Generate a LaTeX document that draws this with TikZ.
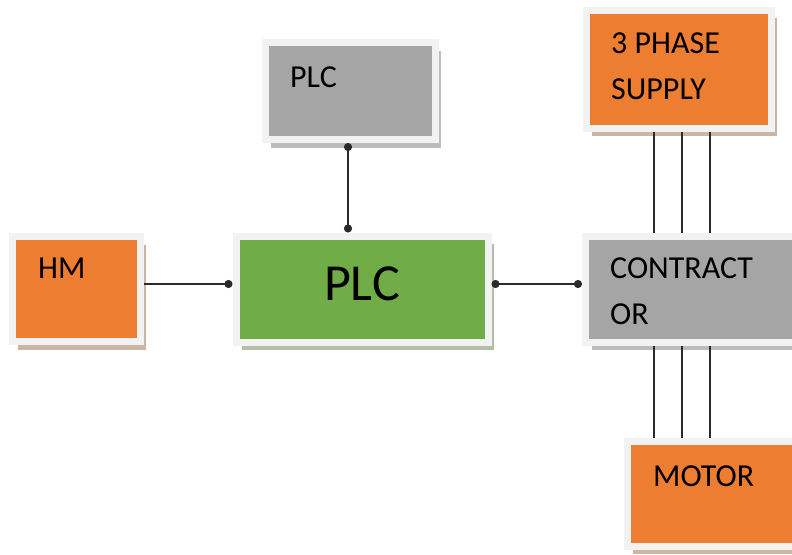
\documentclass[tikz,border=0pt]{standalone}
\usepackage{fontspec}
\setmainfont{Carlito}
\usetikzlibrary{arrows,shadows}
\definecolor{boxorange}{HTML}{ED7D31}
\definecolor{boxgreen}{HTML}{70AD47}
\definecolor{boxgrey}{HTML}{A5A5A5}
\definecolor{rimgrey}{HTML}{F2F2F2}
\definecolor{wiregrey}{HTML}{2B2B2B}

\begin{document}
\begin{tikzpicture}[x=1pt,y=-1pt]
\tikzset{box/.style={draw=rimgrey,line width=7pt,fill=#1,inner sep=0pt,
  drop shadow={shadow xshift=6pt,shadow yshift=-8pt,fill=#1!55!black,opacity=0.4}}}
\tikzset{lbl/.style={inner sep=0pt,anchor=base west,font=\fontsize{32}{46}\selectfont}}
\tikzset{link/.style={line width=1.6pt,draw=wiregrey}}

\useasboundingbox (0,0) rectangle (792,554);
\clip (0,0) rectangle (792,554);

\node[box=boxorange,minimum width=128pt,minimum height=105pt] (hm) at (76,289) {};
\node[box=boxgreen,minimum width=252pt,minimum height=106pt] (plc) at (362,289) {};
\node[box=boxgrey,minimum width=170pt,minimum height=97pt] (prog) at (350,91) {};
\node[box=boxorange,minimum width=185pt,minimum height=118pt] (supply) at (678.5,69) {};
\node[box=boxgrey,minimum width=220pt,minimum height=106pt] (contr) at (695.5,289) {};
\node[box=boxorange,minimum width=183pt,minimum height=105pt] (motor) at (718.5,493.5) {};

\node[lbl] (hmtxt) at (38,278) {HM};
\node[lbl] (progtxt) at (290,87) {PLC};
\node[inner sep=0pt,font=\fontsize{52}{60}\selectfont] (plctxt) at (362,284) {PLC};
\node[lbl,anchor=north west,align=left] (supplytxt) at (611,33) {3 PHASE\\SUPPLY};
\node[lbl,anchor=north west,align=left] (contrtxt) at (610,258) {CONTRACT\\OR};
\node[lbl] (motortxt) at (653,486) {MOTOR};

\draw[link,-*] ([yshift=5pt]hm.east) -- ([yshift=5pt]hm.east -| plc.west);
\draw[link,*-*] ([xshift=-2pt]prog.south) -- ([xshift=-2pt]prog.south |- plc.north);
\draw[link,*-*] ([yshift=5pt]plc.east) -- ([yshift=5pt]plc.east -| contr.west);

\foreach \px in {654,682,710} {
  \draw[link] (supply.south -| \px,0) -- (contr.north -| \px,0);
  \draw[link] (contr.south -| \px,0) -- (motor.north -| \px,0);
}
\end{tikzpicture}
\end{document}
